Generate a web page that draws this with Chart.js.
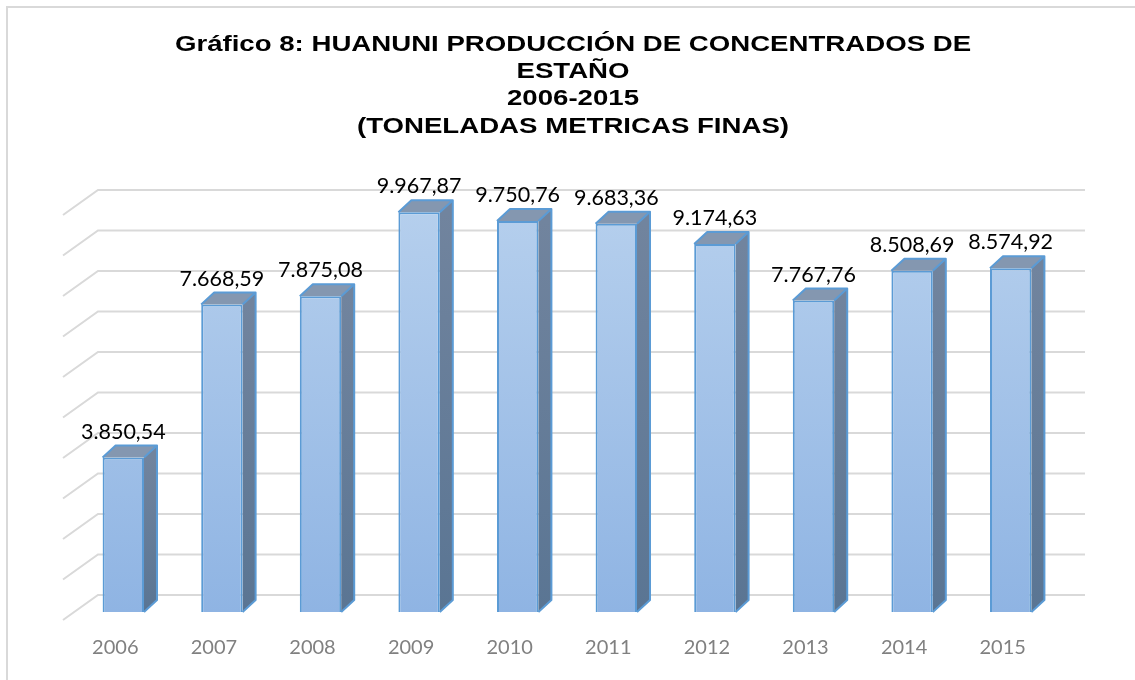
<!DOCTYPE html>
<html>
<head>
<meta charset="utf-8">
<script src="https://cdn.jsdelivr.net/npm/chart.js@4.4.1/dist/chart.umd.min.js"></script>
<style>
  html, body { margin: 0; padding: 0; background: #fff; }
  #wrap { position: relative; width: 1135px; height: 680px; overflow: hidden; }
  #frame { position: absolute; left: 6px; top: 6px; width: 1200px; height: 800px; border: 2px solid #d9d9d9; box-sizing: border-box; }
  #mycanvas { position: absolute; left: 0; top: 0; }
</style>
</head>
<body>
<div id="wrap">
  <div id="frame"></div>
  <canvas id="mycanvas" width="1135" height="680"></canvas>
</div>
<script>
var years = ['2006', '2007', '2008', '2009', '2010', '2011', '2012', '2013', '2014', '2015'];
var produccion = [3850.54, 7668.59, 7875.08, 9967.87, 9750.76, 9683.36, 9174.63, 7767.76, 8508.69, 8574.92];
var gridTicks = [0, 1000, 2000, 3000, 4000, 5000, 6000, 7000, 8000, 9000, 10000];
var titleLines = ['Gráfico 8: HUANUNI PRODUCCIÓN DE CONCENTRADOS DE', 'ESTAÑO', '2006-2015', '(TONELADAS METRICAS FINAS)'];

// 3D depth of bars and of the back wall
var DX = 13, DY = -12;
var WALL_DX = 35;

function formatEs(v) {
	var parts = v.toFixed(2).split('.');
	var ent = parts[0].replace(/\B(?=(\d{3})+(?!\d))/g, '.');
	return ent + ',' + parts[1];
}

var wallPlugin = {
	id: 'wall',
	beforeDatasetsDraw: function(chart) {
		var c = chart.ctx, y = chart.scales.y, area = chart.chartArea;
		c.save();
		c.strokeStyle = '#d9d9d9';
		c.lineWidth = 2;
		for (var i = 0; i < gridTicks.length; i++) {
			var yb = y.getPixelForValue(gridTicks[i] * 1.01) - 17;
			c.beginPath();
			c.moveTo(area.left - 11, yb + 25);
			c.lineTo(area.left - 11 + WALL_DX, yb);
			c.lineTo(area.right + 25, yb);
			c.stroke();
		}
		// side and top faces of the bars
		var meta = chart.getDatasetMeta(0);
		meta.data.forEach(function(bar) {
			var l = bar.x - bar.width / 2, r = bar.x + bar.width / 2;
			var t = bar.y, b = bar.base;
			var g = c.createLinearGradient(0, t, 0, b);
			g.addColorStop(0, '#71849e');
			g.addColorStop(1, '#5a7593');
			c.fillStyle = g;
			c.beginPath();
			c.moveTo(r, t); c.lineTo(r + DX, t + DY); c.lineTo(r + DX, b + DY); c.lineTo(r, b);
			c.closePath();
			c.fill();
			c.fillStyle = '#8497b0';
			c.beginPath();
			c.moveTo(l, t); c.lineTo(l + DX, t + DY); c.lineTo(r + DX, t + DY); c.lineTo(r, t);
			c.closePath();
			c.fill();
			c.strokeStyle = '#5b9bd5';
			c.lineWidth = 2;
			c.lineJoin = 'round';
			c.beginPath();
			c.moveTo(l, t); c.lineTo(l + DX, t + DY); c.lineTo(r + DX, t + DY); c.lineTo(r + DX, b + DY); c.lineTo(r, b);
			c.moveTo(r, t); c.lineTo(r + DX, t + DY);
			c.stroke();
		});
		c.restore();
	},
	afterDatasetsDraw: function(chart) {
		var c = chart.ctx;
		var meta = chart.getDatasetMeta(0);
		c.save();
		c.font = '21.5px Lato';
		c.fillStyle = '#000';
		c.textAlign = 'center';
		c.textBaseline = 'bottom';
		meta.data.forEach(function(bar, i) {
			c.fillText(formatEs(produccion[i]), bar.x, bar.y + DY - 3);
		});
		c.restore();
	},
	afterDraw: function(chart) {
		// title, stretched horizontally like the original
		var c = chart.ctx;
		c.save();
		c.font = 'bold 22px "Liberation Sans"';
		c.fillStyle = '#000';
		c.textAlign = 'center';
		c.textBaseline = 'middle';
		c.translate(573, 0);
		c.scale(1.255, 1);
		for (var i = 0; i < titleLines.length; i++) {
			c.fillText(titleLines[i], 0, 45 + i * 27.2);
		}
		c.restore();
	}
};

var ctx = document.getElementById('mycanvas');

var chartdata = {
	labels: years,
	datasets: [
		{
			label: 'Producción',
			data: produccion,
			backgroundColor: function(context) {
				var area = context.chart.chartArea;
				if (!area) return '#a5c2e8';
				var g = context.chart.ctx.createLinearGradient(0, area.top, 0, area.bottom);
				g.addColorStop(0, '#b5cfed');
				g.addColorStop(1, '#8fb4e3');
				return g;
			},
			borderColor: '#5b9bd5',
			borderWidth: 2,
			barPercentage: 0.42,
			categoryPercentage: 1
		}
	]
};

var barGraph = new Chart(ctx, {
	type: 'bar',
	data: chartdata,
	plugins: [wallPlugin],
	options: {
		responsive: false,
		animation: false,
		layout: { padding: { left: 74, right: 75, top: 211, bottom: 4 } },
		plugins: {
			legend: { display: false },
			tooltip: { enabled: false },
			title: { display: false }
		},
		scales: {
			x: {
				grid: { display: false },
				border: { display: false },
				ticks: { color: '#808080', font: { family: 'Lato', size: 20, lineHeight: 1.0 }, padding: 18, labelOffset: -8 }
			},
			y: {
				min: 0,
				max: 10000,
				display: false
			}
		}
	}
});
</script>
</body>
</html>
